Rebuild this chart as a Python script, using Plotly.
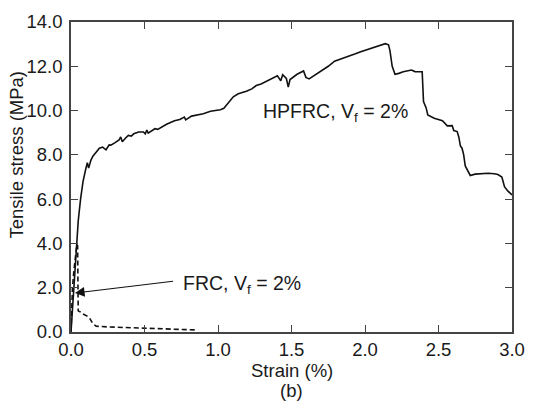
import plotly.graph_objects as go

# HPFRC (solid) curve: strain (%) vs tensile stress (MPa)
hp_strain = [0.0, 0.01, 0.022, 0.035, 0.049, 0.065, 0.082, 0.10, 0.111, 0.12, 0.135, 0.149, 0.17, 0.193,
             0.215, 0.238, 0.26, 0.271, 0.30, 0.327, 0.338, 0.349, 0.37, 0.39, 0.41, 0.427, 0.46, 0.493,
             0.505, 0.516, 0.525, 0.55, 0.571, 0.59, 0.65, 0.704, 0.74, 0.771, 0.78, 0.82, 0.86, 0.90,
             0.949, 1.016, 1.04, 1.06, 1.085, 1.104, 1.138, 1.193, 1.23, 1.26, 1.293, 1.349, 1.404,
             1.427, 1.44, 1.465, 1.478, 1.49, 1.538, 1.582, 1.598, 1.62, 1.66, 1.704, 1.75, 1.793,
             1.84, 1.882, 1.93, 1.971, 2.038, 2.093, 2.138, 2.16, 2.17, 2.185, 2.204, 2.23, 2.26,
             2.316, 2.34, 2.389, 2.392, 2.398, 2.416, 2.427, 2.471, 2.527, 2.56, 2.593, 2.604, 2.627,
             2.638, 2.649, 2.66, 2.671, 2.682, 2.70, 2.716, 2.749, 2.80, 2.838, 2.88, 2.904, 2.931,
             2.949, 2.971, 3.0]
hp_stress = [0.0, 1.0, 2.0, 3.2, 5.0, 6.0, 6.8, 7.35, 7.65, 7.4, 7.75, 7.94, 8.12, 8.3,
             8.35, 8.23, 8.45, 8.44, 8.55, 8.67, 8.81, 8.59, 8.75, 8.88, 8.85, 8.95, 9.03, 9.03,
             8.95, 9.12, 8.98, 9.1, 9.18, 9.15, 9.38, 9.54, 9.6, 9.71, 9.58, 9.75, 9.8, 9.86,
             9.97, 10.04, 10.1, 10.26, 10.45, 10.62, 10.76, 10.87, 10.98, 11.13, 11.2, 11.39, 11.57,
             11.35, 11.62, 11.45, 11.06, 11.4, 11.64, 11.79, 11.5, 11.43, 11.6, 11.79, 12.0, 12.23,
             12.33, 12.45, 12.55, 12.66, 12.81, 12.91, 13.02, 12.97, 12.7, 12.0, 11.64, 11.68, 11.75,
             11.83, 11.76, 11.75, 11.2, 10.41, 10.12, 9.8, 9.65, 9.54, 9.31, 9.32, 9.1, 9.05,
             8.81, 8.4, 8.3, 8.01, 7.5, 7.25, 7.07, 7.13, 7.16, 7.17, 7.15, 7.11, 7.0,
             6.56, 6.37, 6.19]

# FRC (dashed) curve
frc_strain = [0.0, 0.005, 0.01, 0.02, 0.03, 0.04, 0.045, 0.047, 0.049, 0.065, 0.082, 0.11,
              0.127, 0.149, 0.171, 0.25, 0.371, 0.593, 0.86]
frc_stress = [0.0, 1.0, 2.0, 2.8, 3.5, 3.95, 3.9, 2.0, 0.96, 0.9, 0.81, 0.72,
              0.62, 0.38, 0.26, 0.23, 0.2, 0.16, 0.09]

x_ticks = [0.0, 0.5, 1.0, 1.5, 2.0, 2.5, 3.0]
y_ticks = [0, 2, 4, 6, 8, 10, 12, 14]

FONT = "Liberation Sans, Arial, sans-serif"
TXT = "#1a1a1a"

fig = go.Figure()
fig.add_trace(go.Scatter(x=hp_strain, y=hp_stress, mode="lines",
                         line=dict(color="#111111", width=1.6), showlegend=False))
fig.add_trace(go.Scatter(x=frc_strain, y=frc_stress, mode="lines",
                         line=dict(color="#111111", width=1.6, dash="5px,3px"), showlegend=False))

axis_common = dict(showgrid=False, zeroline=False, showline=True, linecolor="#444444", linewidth=1.5,
                   mirror="ticks", ticks="inside", ticklen=7, tickwidth=1.3, tickcolor="#444444",
                   tickfont=dict(family=FONT, size=18.5, color=TXT))

fig.update_xaxes(range=[0, 3.0], tickvals=x_ticks, tickformat=".1f", **axis_common)
fig.update_yaxes(range=[0, 14.0], tickvals=y_ticks, tickformat=".1f", ticklabelstandoff=3, **axis_common)

L, R, T, B = 71, 14, 11, 74
W, H = 536, 406
pw, ph = W - L - R, H - T - B

annotations = [
    dict(text="HPFRC, V<sub>f</sub> = 2%", x=1.293, y=9.9, xref="x", yref="y",
         xanchor="left", yanchor="middle", showarrow=False,
         font=dict(family=FONT, size=19.5, color=TXT)),
    dict(text="FRC, V<sub>f</sub> = 2%", x=0.747, y=2.14, xref="x", yref="y",
         xanchor="left", yanchor="middle", showarrow=False,
         font=dict(family=FONT, size=19.5, color=TXT)),
    dict(text="", x=0.027, y=1.76, ax=0.704, ay=2.3, xref="x", yref="y", axref="x", ayref="y",
         showarrow=True, arrowhead=2, arrowsize=1.6, arrowwidth=1.2, arrowcolor="#111111",
         standoff=0, startstandoff=0),
    dict(text="Strain (%)", x=0.5, y=(H - B - 372) / ph, xref="paper", yref="paper",
         xanchor="center", yanchor="middle", showarrow=False,
         font=dict(family=FONT, size=18.5, color=TXT)),
    dict(text="(b)", x=0.5, y=(H - B - 393) / ph, xref="paper", yref="paper",
         xanchor="center", yanchor="middle", showarrow=False,
         font=dict(family=FONT, size=18.5, color=TXT)),
    dict(text="Tensile stress (MPa)", x=(15 - L) / pw, y=(H - B - 148) / ph,
         xref="paper", yref="paper",
         textangle=-90, xanchor="center", yanchor="middle", showarrow=False,
         font=dict(family=FONT, size=18.5, color=TXT)),
]

fig.update_layout(width=W, height=H, margin=dict(l=L, r=R, t=T, b=B, pad=0),
                  paper_bgcolor="white", plot_bgcolor="white",
                  annotations=annotations, font=dict(family=FONT, color=TXT))

fig.write_html("out.html", config={"displayModeBar": False},
               post_script="document.body.style.margin='0';document.body.style.overflow='hidden';")
